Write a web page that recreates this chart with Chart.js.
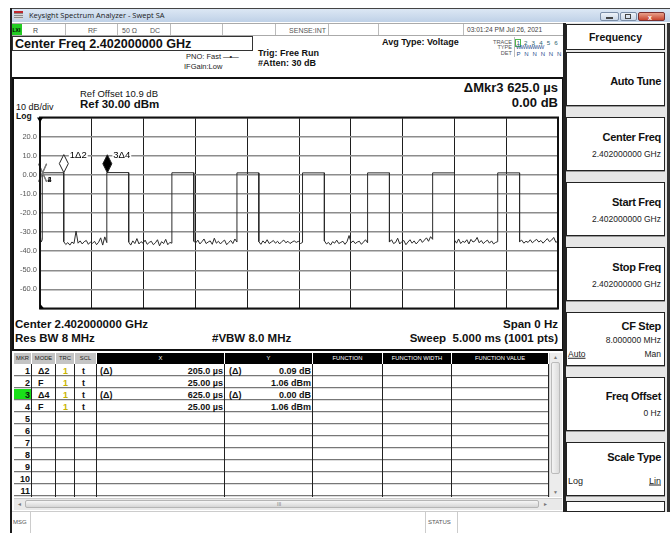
<!DOCTYPE html>
<html>
<head>
<meta charset="utf-8">
<title>Keysight Spectrum Analyzer - Swept SA</title>
<script src="https://cdn.jsdelivr.net/npm/chart.js@4.4.1/dist/chart.umd.min.js"></script>
<style>
  body { margin: 0; width: 670px; height: 533px; overflow: hidden; background: #fff; position: relative;
         font-family: "Liberation Sans", Arial, sans-serif; color: #111; }
  .box { position: absolute; box-sizing: border-box; }
  .t { position: absolute; white-space: nowrap; line-height: 1; transform: translateY(-50%); }
  .b { font-weight: bold; }
  .key { position: absolute; left: 566px; width: 99px; height: 54px; box-sizing: border-box;
         background: #fff; border: 1px solid #222; box-shadow: 0 1px 0 #999; }
  .key .l { position: absolute; right: 3px; font-weight: bold; font-size: 11px; letter-spacing: -0.3px; white-space: nowrap; line-height: 1; transform: translateY(-50%); }
  .key .v { position: absolute; right: 3px; font-size: 8.5px; white-space: nowrap; line-height: 1; transform: translateY(-50%); color: #222; }
  #trace { position: absolute; left: 14px; top: 110px; }
</style>
</head>
<body>

<!-- window frame and title bar -->
<div class="box" style="left:10px;top:8px;width:660px;height:1px;background:#444"></div>
<div class="box" style="left:10px;top:8px;width:2px;height:525px;background:#1c1c1c"></div>
<div class="box" style="left:12px;top:9px;width:658px;height:13px;background:linear-gradient(#dce7f4,#bfd1e7)"></div>
<div class="box" style="left:14px;top:11px;width:9px;height:8px;background:repeating-linear-gradient(#8a8a8a 0 1px,#d8d8d8 1px 2px);border-top:2px solid #c0282d"></div>
<div class="t" style="left:29px;top:15.5px;font-family:'Open Sans',sans-serif;font-size:7.5px;color:#1a1a1a">Keysight Spectrum Analyzer - Swept SA</div>
<div class="box" style="left:600px;top:12px;width:19px;height:9px;border:1px solid #7b8ea8;border-radius:2px;background:linear-gradient(#eef3f9,#c9d6e6)"></div>
<div class="box" style="left:606px;top:17px;width:7px;height:2px;background:#444"></div>
<div class="box" style="left:620px;top:12px;width:17px;height:9px;border:1px solid #7b8ea8;border-radius:2px;background:linear-gradient(#eef3f9,#c9d6e6)"></div>
<div class="box" style="left:625px;top:14px;width:6px;height:5px;border:1px solid #444"></div>
<div class="box" style="left:638px;top:12px;width:27px;height:9px;border:1px solid #7a3030;border-radius:2px;background:linear-gradient(#e8a08a,#c8452e)"></div>
<div class="t b" style="left:648px;top:16.5px;font-size:7px;color:#fff">x</div>

<!-- status row -->
<div class="box" style="left:12px;top:23px;width:551px;height:13px;border-top:1px solid #aaa;border-bottom:1px solid #aaa"></div>
<div class="box" style="left:12px;top:24px;width:10px;height:11px;background:#22cc22"></div>
<div class="t b" style="left:12.5px;top:29.5px;font-size:5px;color:#000">LXI</div>
<div class="t" style="left:33px;top:29.5px;font-size:7px;color:#444">R</div>
<div class="t" style="left:88px;top:29.5px;font-size:7px;color:#555">RF</div>
<div class="t" style="left:122px;top:29.5px;font-size:7px;color:#555">50 Ω</div>
<div class="t" style="left:150px;top:29.5px;font-size:7px;color:#555">DC</div>
<div class="t" style="right:344px;top:29.5px;font-size:7px;color:#555">SENSE:INT</div>
<div class="t" style="left:467px;top:29.5px;font-size:6.6px;color:#444">03:01:24 PM Jul 26, 2021</div>
<div id="cells"></div>

<!-- measurement banner -->
<div class="box" style="left:12px;top:36px;width:241px;height:15px;border:1px solid #333"></div>
<div class="t b" style="left:15px;top:43.5px;font-size:12.6px">Center Freq 2.402000000 GHz</div>
<div class="t" style="left:186px;top:57px;font-size:7.5px;color:#222">PNO: Fast <span style="letter-spacing:-1px">—•—</span></div>
<div class="t" style="left:184px;top:67px;font-size:7.5px;color:#222">IFGain:Low</div>
<div class="t b" style="left:258px;top:53px;font-size:9px">Trig: Free Run</div>
<div class="t b" style="left:258px;top:63px;font-size:9px">#Atten: 30 dB</div>
<div class="t b" style="left:382px;top:42px;font-size:9px">Avg Type: Voltage</div>
<div class="box" style="left:514px;top:37px;width:49px;height:20px;border-left:1px solid #bbb"></div>
<div class="t" style="right:158px;top:42.5px;font-size:5.6px;color:#555">TRACE</div>
<div class="t" style="right:158px;top:48px;font-size:5.6px;color:#555">TYPE</div>
<div class="t" style="right:158px;top:53.5px;font-size:5.6px;color:#555">DET</div>
<div class="box" style="left:515px;top:38.5px;width:6px;height:8px;border:1px solid #4db84d"></div>
<div class="t" style="left:516.5px;top:42.5px;font-size:6.2px;color:#2c5f6f;letter-spacing:1.2px">1 2 3 4 5 6</div>
<div class="t" style="left:516px;top:48px;font-size:5.6px;color:#2c4f8f;letter-spacing:-0.7px">WWWWWW</div>
<div class="t" style="left:516.5px;top:53.5px;font-size:6px;color:#2c4f8f;letter-spacing:1.1px">P N N N N N</div>

<!-- graph panel -->
<div class="box" style="left:12px;top:77px;width:552px;height:274px;border:2px solid #111"></div>
<div class="t" style="left:80px;top:94px;font-size:9.5px">Ref Offset 10.9 dB</div>
<div class="t b" style="left:80px;top:105px;font-size:11.5px">Ref 30.00 dBm</div>
<div class="t" style="left:16px;top:107px;font-size:9px">10 dB/div</div>
<div class="t b" style="left:16px;top:116px;font-size:8.5px">Log</div>
<div class="t b" style="right:112px;top:87px;font-size:13px">ΔMkr3 625.0 µs</div>
<div class="t b" style="right:112px;top:102px;font-size:13px">0.00 dB</div>
<canvas id="trace" width="546" height="206"></canvas>
<div class="t b" style="left:15px;top:325px;font-size:11.5px">Center 2.402000000 GHz</div>
<div class="t b" style="left:15px;top:339px;font-size:11.5px">Res BW 8 MHz</div>
<div class="t b" style="left:212px;top:339px;font-size:11.5px">#VBW 8.0 MHz</div>
<div class="t b" style="right:112px;top:325px;font-size:11.5px">Span 0 Hz</div>
<div class="t b" style="right:112px;top:339px;font-size:11.5px">Sweep&nbsp; 5.000 ms (1001 pts)</div>

<!-- marker table -->
<div id="table"></div>
<div class="box" style="left:549px;top:353px;width:13px;height:144px;background:#ececec;border-left:1px solid #ccc"></div>
<div class="box" style="left:551px;top:362px;width:9px;height:112px;background:linear-gradient(90deg,#f4f4f4,#dcdcdc);border:1px solid #bbb;border-radius:2px"></div>
<div class="t" style="left:553px;top:357px;font-size:5px;color:#777">▲</div>
<div class="t" style="left:553px;top:492px;font-size:5px;color:#777">▼</div>
<div class="box" style="left:14px;top:498px;width:548px;height:12px;background:#e9e9e9;border-top:1px solid #ccc"></div>
<div class="box" style="left:25px;top:500px;width:514px;height:8px;background:linear-gradient(#f6f6f6,#d6d6d6);border:1px solid #b5b5b5;border-radius:2px"></div>
<div class="t" style="left:17px;top:504px;font-size:5px;color:#777">◄</div>
<div class="t" style="left:543px;top:504px;font-size:5px;color:#777">►</div>
<div class="t" style="left:277px;top:504px;font-size:5px;color:#777">III</div>

<!-- message bar -->
<div class="box" style="left:12px;top:511px;width:658px;height:22px;border-top:1px solid #ccc"></div>
<div class="box" style="left:30px;top:512px;width:1px;height:21px;background:#ccc"></div>
<div class="box" style="left:425px;top:512px;width:1px;height:21px;background:#ccc"></div>
<div class="box" style="left:457px;top:512px;width:1px;height:21px;background:#ccc"></div>
<div class="t" style="left:13px;top:522px;font-size:6px;color:#555">MSG</div>
<div class="t" style="left:428px;top:522px;font-size:6px;color:#555">STATUS</div>

<!-- softkey panel -->
<div class="box" style="left:563px;top:23px;width:107px;height:489px;background:#e6e6e6;border-left:3px solid #222;border-right:3px solid #333"></div>
<div class="box" style="left:566px;top:24px;width:99px;height:26px;background:#fff;border:1px solid #222"></div>
<div class="t b" style="left:566px;width:99px;text-align:center;top:37px;font-size:10.5px">Frequency</div>
<div class="key" style="top:52px"><div class="l" style="top:28px">Auto Tune</div></div>
<div class="key" style="top:117px"><div class="l" style="top:19px">Center Freq</div><div class="v" style="top:36px">2.402000000 GHz</div></div>
<div class="key" style="top:182px"><div class="l" style="top:19px">Start Freq</div><div class="v" style="top:36px">2.402000000 GHz</div></div>
<div class="key" style="top:247px"><div class="l" style="top:19px">Stop Freq</div><div class="v" style="top:36px">2.402000000 GHz</div></div>
<div class="key" style="top:312px"><div class="l" style="top:13px">CF Step</div><div class="v" style="top:27px">8.000000 MHz</div>
  <div class="v" style="left:1px;right:auto;top:41px;text-decoration:underline">Auto</div><div class="v" style="top:41px">Man</div></div>
<div class="key" style="top:377px"><div class="l" style="top:18px">Freq Offset</div><div class="v" style="top:35px">0 Hz</div></div>
<div class="key" style="top:442px"><div class="l" style="top:14px">Scale Type</div>
  <div class="v" style="left:1px;right:auto;top:38px;font-size:9px">Log</div><div class="v" style="top:38px;font-size:9px;text-decoration:underline">Lin</div></div>
<div class="key" style="top:501px;height:11px;box-shadow:none"></div>

<script>
// zero span sweep, 0 .. 5 ms, 10 dB/div from the 30 dBm reference
const timeTicksMs = [0, 0.5, 1, 1.5, 2, 2.5, 3, 3.5, 4, 4.5, 5];
const levelTicksDbm = [30, 20, 10, 0, -10, -20, -30, -40, -50, -60, -70];
const levelTickLabels = ['', '20.0', '10.0', '0.00', '-10.0', '-20.0', '-30.0', '-40.0', '-50.0', '-60.0', ''];

// burst edges and burst level
const burstOnMs = [0.022, 0.645, 1.273, 1.901, 2.534, 3.162, 3.790, 4.418];
const burstOffMs = [0.229, 0.856, 1.484, 2.112, 2.745, 3.373, 4.001, 4.629];
const burstDbm = [1.06, 1.15, 1.06, 1.0, 1.0, 1.0, 1.0, 1.0];

// noise floor read between the bursts, left to right (one list per gap)
const floorDbm = [
  [-30.5, -35.2, -34.0],
  [-35.0, -36.5, -35.5, -36.8, -35.2, -36.0, -29.5, -35.8, -34.6, -36.2, -35.0, -34.4, -36.4, -35.2, -35.9, -34.8, -36.6, -35.3, -33.0, -36.8, -32.5, -35.5],
  [-35.2, -36.8, -34.6, -36.0, -33.4, -36.2, -35.0, -35.8, -34.2, -36.4, -35.4, -34.8, -36.6, -35.6, -34.0, -37.2, -35.0, -36.0, -33.8, -36.6, -35.4, -35.8],
  [-34.8, -35.6, -34.2, -36.2, -35.0, -33.6, -36.0, -35.2, -34.6, -36.4, -33.2, -35.8, -34.8, -36.2, -35.0, -34.2, -36.6, -35.4, -34.4, -36.0, -33.6, -35.2],
  [-35.0, -36.4, -34.6, -35.8, -34.0, -36.0, -35.2, -34.4, -35.8, -34.8, -36.2, -35.0, -34.2, -35.6, -34.8, -36.0, -35.2, -34.6, -35.4, -34.8, -36.0, -35.4],
  [-34.6, -36.2, -35.4, -36.8, -35.0, -35.8, -34.2, -36.0, -35.4, -34.8, -36.4, -35.0, -31.8, -35.6, -34.6, -36.0, -35.2, -34.8, -36.4, -35.2, -34.0, -35.6],
  [-35.2, -34.0, -36.0, -35.4, -33.2, -36.2, -35.0, -34.4, -36.6, -35.2, -34.0, -35.8, -34.6, -36.2, -35.0, -33.6, -35.4, -34.2, -33.0, -34.8, -32.4, -33.8],
  [-34.2, -35.8, -33.6, -36.0, -34.8, -35.4, -34.0, -36.2, -33.8, -35.2, -34.6, -32.8, -35.6, -34.4, -36.0, -35.0, -34.2, -35.8, -34.6, -36.2, -35.4, -35.0],
  [-35.0, -34.2, -35.8, -34.8, -35.4, -34.0, -35.6, -34.6, -33.8, -35.2, -34.4, -35.8, -34.6, -33.4, -35.0, -34.2, -32.8, -35.4, -34.6]
];

// markers
const mkrLabels = ['1Δ2', '2', '3Δ4', '4'];
const mkrTimeMs = [0.230, 0.025, 0.650, 0.025];
const mkrDbm = [1.15, 1.06, 1.06, 1.06];
const mkrKind = ['delta', 'fixed', 'active', 'fixed'];

// marker table text
const tblMode = ['Δ2', 'F', 'Δ4', 'F'];
const tblX = ['205.0 µs', '25.00 µs', '625.0 µs', '25.00 µs'];
const tblY = ['0.09 dB', '1.06 dBm', '0.00 dB', '1.06 dBm'];
const tblRel = ['(Δ)', '', '(Δ)', ''];

const trace = [];
floorDbm.forEach((gap, k) => {
  const from = k === 0 ? 0 : burstOffMs[k - 1];
  const to = k < burstOnMs.length ? burstOnMs[k] : 5;
  if (k > 0) trace.push({ x: from, y: burstDbm[k - 1] });
  gap.forEach((v, i) => trace.push({ x: from + (to - from) * i / (gap.length - 1), y: v }));
  if (k < burstOnMs.length) trace.push({ x: to, y: burstDbm[k] });
});

// status row cell dividers
const cellEdges = [65, 117, 170, 222, 275, 328, 378, 463, 563];
document.getElementById('cells').innerHTML = cellEdges.map(x =>
  `<div class="box" style="left:${x}px;top:24px;width:1px;height:11px;background:#bbb"></div>`).join('');

// table
const colEdges = [14, 32, 56, 75, 97, 225, 313, 383, 452, 549];
const hdr = ['MKR', 'MODE', 'TRC', 'SCL', 'X', 'Y', 'FUNCTION', 'FUNCTION WIDTH', 'FUNCTION VALUE'];
let html = '';
hdr.forEach((h, i) => {
  const grey = i < 4;
  html += `<div class="box" style="left:${colEdges[i]}px;top:353px;width:${colEdges[i + 1] - colEdges[i] - 1}px;height:11px;` +
    `background:${grey ? '#c4c4c4' : '#000'};color:${grey ? '#222' : '#fff'};font-size:5.8px;text-align:center;line-height:11px;white-space:nowrap">${h}</div>`;
});
for (let r = 0; r < 11; r++) {
  const top = 365 + r * 12, mid = top + 6;
  html += `<div class="box" style="left:14px;top:${top + 10}px;width:535px;height:2px;border-top:1px solid #777;border-bottom:1px solid #ddd"></div>`;
  if (r === 2) html += `<div class="box" style="left:14px;top:${top}px;width:18px;height:10px;background:#19e019"></div>`;
  html += `<div class="t b" style="right:${670 - 30}px;top:${mid}px;font-size:9px">${r + 1}</div>`;
  if (r < tblMode.length) {
    html += `<div class="t b" style="left:38px;top:${mid}px;font-size:9px">${tblMode[r]}</div>`;
    html += `<div class="t b" style="left:63px;top:${mid}px;font-size:9px;color:#c8b400">1</div>`;
    html += `<div class="t b" style="left:82px;top:${mid}px;font-size:9px">t</div>`;
    html += `<div class="t b" style="left:100px;top:${mid}px;font-size:9px">${tblRel[r]}</div>`;
    html += `<div class="t b" style="right:${670 - 223}px;top:${mid}px;font-size:9px">${tblX[r]}</div>`;
    html += `<div class="t b" style="left:229px;top:${mid}px;font-size:9px">${tblRel[r]}</div>`;
    html += `<div class="t b" style="right:${670 - 311}px;top:${mid}px;font-size:9px">${tblY[r]}</div>`;
  }
}
colEdges.slice(1).forEach(x => {
  html += `<div class="box" style="left:${x - 1}px;top:364px;width:1px;height:133px;background:#222"></div>`;
});
document.getElementById('table').innerHTML = html;

const frame = {
  id: 'frame',
  afterDraw(c) {
    const { ctx, chartArea: a } = c;
    ctx.save();
    ctx.strokeStyle = '#111';
    ctx.lineWidth = 2;
    ctx.strokeRect(a.left, a.top, a.right - a.left, a.bottom - a.top);
    ctx.fillStyle = '#000';
    ctx.beginPath();
    ctx.moveTo(a.left - 3, a.top); ctx.lineTo(a.left + 3, a.top); ctx.lineTo(a.left, a.top + 5);
    ctx.fill();
    ctx.beginPath();
    ctx.moveTo(a.left, a.bottom - 5); ctx.lineTo(a.left + 4, a.bottom); ctx.lineTo(a.left, a.bottom);
    ctx.fill();
    ctx.restore();
  }
};

const markers = {
  id: 'markers',
  afterDatasetsDraw(c) {
    const { ctx, scales: { x, y } } = c;
    ctx.save();
    ctx.textBaseline = 'middle';
    mkrTimeMs.forEach((t, i) => {
      const px = x.getPixelForValue(t), py = y.getPixelForValue(mkrDbm[i]);
      if (mkrKind[i] === 'fixed') {
        ctx.strokeStyle = '#7a7a7a';
        ctx.lineWidth = 1.2;
        ctx.beginPath();
        ctx.moveTo(px - 4, py - 9); ctx.lineTo(px + 4, py + 9);
        ctx.moveTo(px + 4, py - 9); ctx.lineTo(px - 4, py + 9);
        ctx.stroke();
        ctx.fillStyle = '#111';
        ctx.font = 'bold 7px "Liberation Sans", Arial, sans-serif';
        ctx.fillText(mkrLabels[i], px + 5, py + 7);
        return;
      }
      ctx.beginPath();
      ctx.moveTo(px, py); ctx.lineTo(px - 4.5, py - 9); ctx.lineTo(px, py - 18); ctx.lineTo(px + 4.5, py - 9);
      ctx.closePath();
      ctx.fillStyle = mkrKind[i] === 'active' ? '#000' : '#fff';
      ctx.fill();
      ctx.strokeStyle = '#222';
      ctx.lineWidth = 1;
      ctx.stroke();
      ctx.font = '9.5px "Liberation Sans", Arial, sans-serif';
      const w = ctx.measureText(mkrLabels[i]).width;
      ctx.fillStyle = '#fff';
      ctx.fillRect(px + 5, py - 23, w + 2, 11);
      ctx.fillStyle = '#000';
      ctx.fillText(mkrLabels[i], px + 6, py - 17);
    });
    ctx.restore();
  }
};

new Chart(document.getElementById('trace'), {
  type: 'line',
  data: {
    datasets: [{ data: trace, borderColor: '#2b2b2b', borderWidth: 1, pointRadius: 0, tension: 0, fill: false }]
  },
  options: {
    responsive: false,
    animation: false,
    layout: { padding: { top: 3, right: 2, bottom: 3, left: 0 } },
    plugins: { legend: { display: false }, tooltip: { enabled: false } },
    scales: {
      x: {
        type: 'linear', min: 0, max: 5,
        afterBuildTicks: s => { s.ticks = timeTicksMs.map(v => ({ value: v })); },
        afterFit: s => { s.height = 0; },
        ticks: { display: false },
        grid: { color: '#1e1e1e', lineWidth: 1, drawTicks: false },
        border: { display: false }
      },
      y: {
        type: 'linear', min: -70, max: 30,
        afterBuildTicks: s => { s.ticks = levelTicksDbm.map(v => ({ value: v })); },
        afterFit: s => { s.width = 26; },
        ticks: {
          callback: v => levelTickLabels[levelTicksDbm.indexOf(v)],
          color: '#555', padding: 3,
          font: { size: 7.5, family: '"Liberation Sans", Arial, sans-serif' }
        },
        grid: { color: '#8c8c8c', lineWidth: 1.5, drawTicks: false },
        border: { display: false }
      }
    }
  },
  plugins: [frame, markers]
});
</script>
</body>
</html>
